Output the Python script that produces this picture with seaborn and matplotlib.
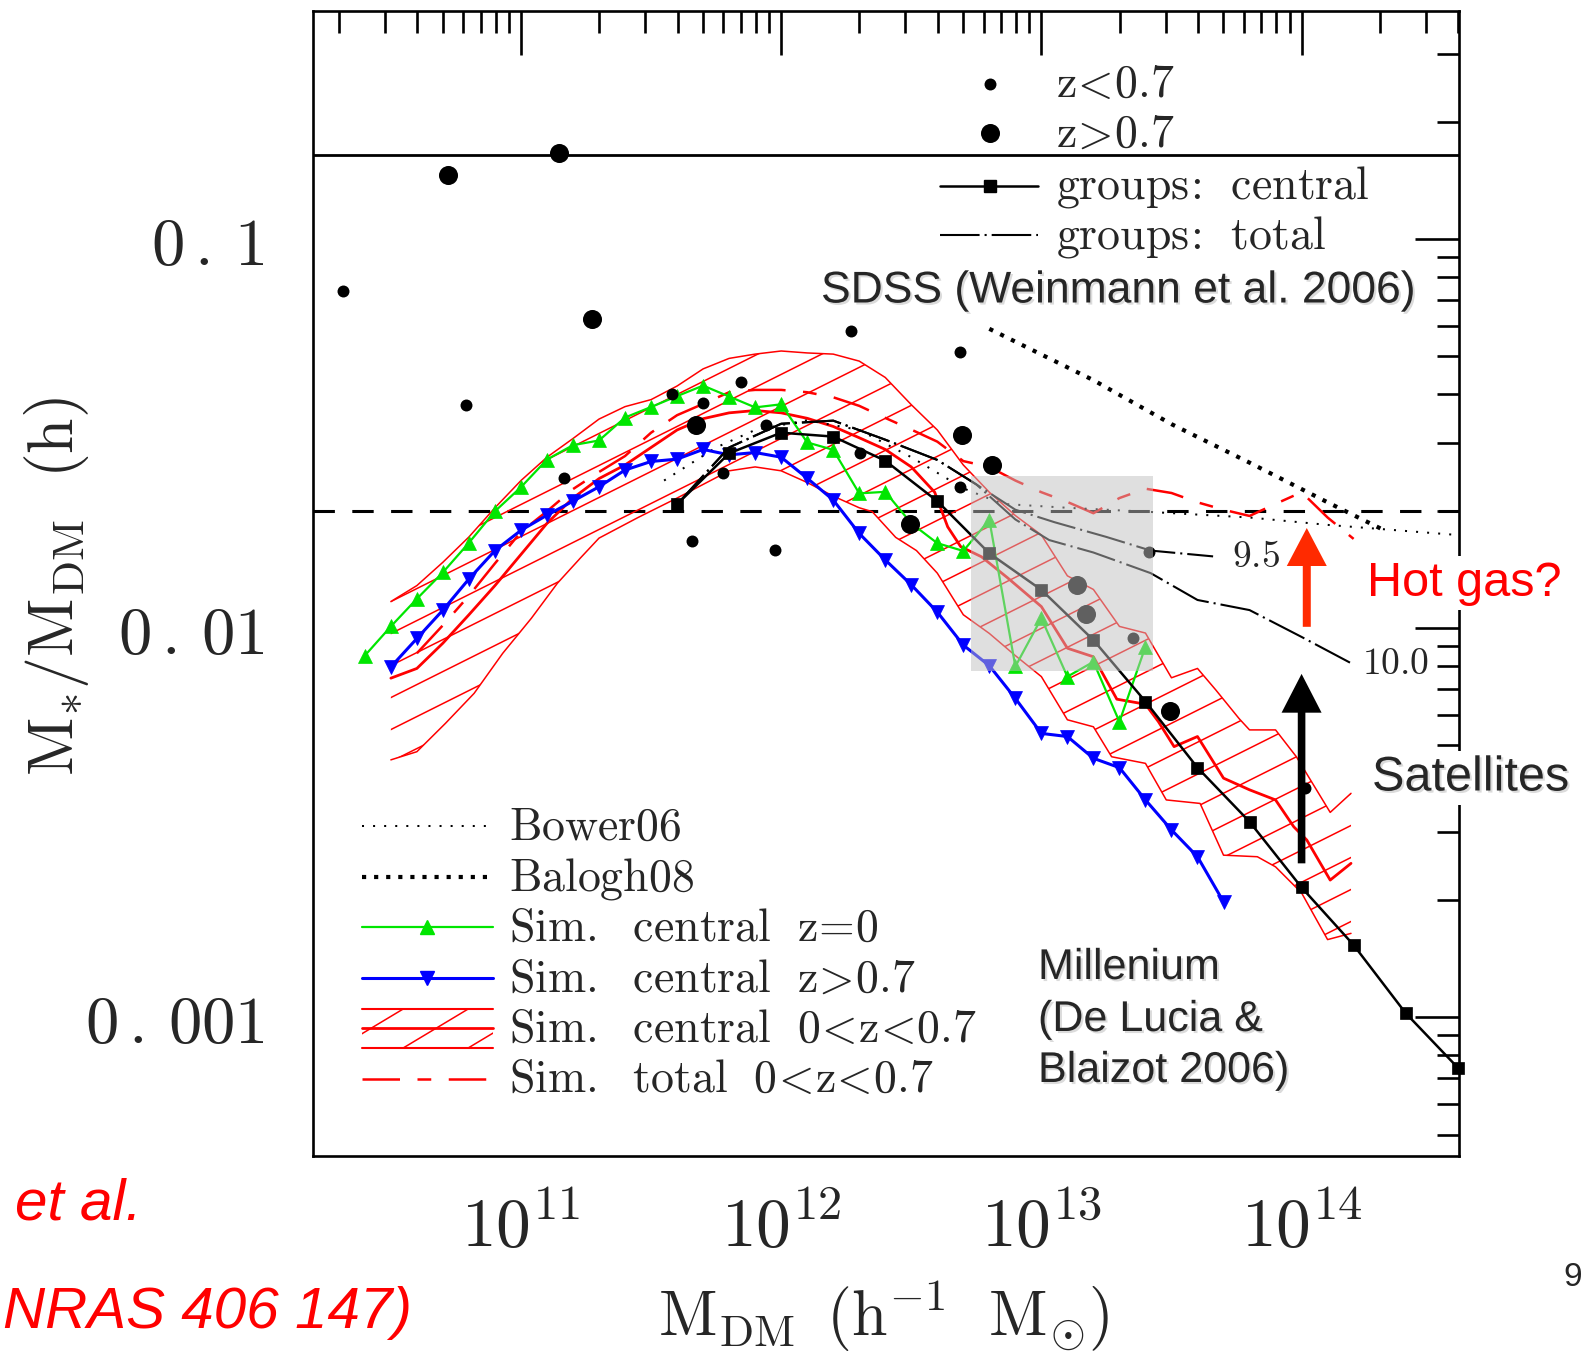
import numpy as np
import matplotlib
matplotlib.use("Agg")
import matplotlib.pyplot as plt
import matplotlib.patheffects as pe
from matplotlib.patches import Polygon, Rectangle
from matplotlib.collections import LineCollection
from matplotlib.ticker import FixedLocator, FixedFormatter, LogLocator, NullFormatter
import seaborn as sns

sns.set_style("white")
plt.rcParams["font.family"] = ["DejaVu Serif", "DejaVu Sans"]
plt.rcParams["mathtext.fontset"] = "cm"
plt.rcParams["axes.unicode_minus"] = False

# ---------------------------------------------------------------------------
# Data: log10 halo mass [h^-1 Msun] and log10 stellar-to-halo mass ratio
# ---------------------------------------------------------------------------
# Simulation, central galaxies at z=0
sim_z0_logm = [10.4, 10.5, 10.6, 10.7, 10.8, 10.9, 11.0, 11.1, 11.2, 11.3, 11.4,
               11.5, 11.6, 11.7, 11.8, 11.9, 12.0, 12.1, 12.2, 12.3, 12.4, 12.5,
               12.6, 12.7, 12.8, 12.9, 13.0, 13.1, 13.2, 13.3, 13.4]
sim_z0_logr = [-2.070, -1.995, -1.924, -1.856, -1.780, -1.699, -1.637, -1.566,
               -1.529, -1.517, -1.458, -1.431, -1.403, -1.376, -1.404, -1.432,
               -1.424, -1.522, -1.541, -1.653, -1.649, -1.730, -1.781, -1.801,
               -1.721, -2.098, -1.974, -2.124, -2.086, -2.240, -2.047]

# Simulation, central galaxies at z>0.7
sim_hiz_logm = [10.5, 10.6, 10.7, 10.8, 10.9, 11.0, 11.1, 11.2, 11.3, 11.4, 11.5,
                11.6, 11.7, 11.8, 11.9, 12.0, 12.1, 12.2, 12.3, 12.4, 12.5, 12.6,
                12.7, 12.8, 12.9, 13.0, 13.1, 13.2, 13.3, 13.4, 13.5, 13.6, 13.7]
sim_hiz_logr = [-2.099, -2.026, -1.953, -1.873, -1.800, -1.748, -1.709, -1.673,
                -1.636, -1.593, -1.571, -1.565, -1.540, -1.554, -1.548, -1.560,
                -1.614, -1.670, -1.756, -1.824, -1.888, -1.958, -2.043, -2.096,
                -2.180, -2.270, -2.278, -2.334, -2.358, -2.441, -2.518, -2.587,
                -2.703]

# Simulation, central galaxies 0<z<0.7: upper edge, median and lower edge
band_hi_logm = [10.50, 10.60, 10.70, 10.80, 10.90, 11.00, 11.10, 11.20, 11.30,
                11.40, 11.50, 11.60, 11.70, 11.80, 11.90, 12.00, 12.10, 12.20,
                12.30, 12.40, 12.50, 12.60, 12.70, 12.80, 12.90, 13.00, 13.10,
                13.20, 13.30, 13.40, 13.50, 13.60, 13.67, 13.76, 13.80, 13.90,
                13.98, 14.11, 14.19]
band_hi_logr = [-1.931, -1.890, -1.830, -1.765, -1.690, -1.620, -1.560, -1.512,
                -1.462, -1.430, -1.412, -1.377, -1.333, -1.306, -1.295, -1.287,
                -1.292, -1.295, -1.313, -1.355, -1.425, -1.490, -1.580, -1.650,
                -1.710, -1.760, -1.865, -1.900, -1.995, -2.012, -2.127, -2.103,
                -2.158, -2.232, -2.261, -2.261, -2.330, -2.473, -2.424]
band_mid_logm = [10.50, 10.60, 10.70, 10.80, 10.90, 11.00, 11.10, 11.20, 11.30,
                 11.40, 11.50, 11.60, 11.70, 11.80, 11.90, 12.00, 12.10, 12.20,
                 12.30, 12.40, 12.50, 12.59, 12.64, 12.69, 12.77, 12.87, 13.00,
                 13.10, 13.20, 13.29, 13.40, 13.45, 13.51, 13.60, 13.70, 13.80,
                 13.90, 13.97, 14.02, 14.11, 14.19]
band_mid_logr = [-2.128, -2.103, -2.038, -1.965, -1.890, -1.810, -1.730, -1.665,
                 -1.615, -1.580, -1.535, -1.490, -1.461, -1.446, -1.440, -1.446,
                 -1.460, -1.481, -1.510, -1.540, -1.585, -1.650, -1.739, -1.790,
                 -1.816, -1.870, -1.944, -2.051, -2.073, -2.182, -2.195, -2.240,
                 -2.304, -2.278, -2.385, -2.415, -2.441, -2.510, -2.544, -2.647,
                 -2.604]
band_lo_logm = [10.50, 10.60, 10.71, 10.82, 10.93, 11.04, 11.14, 11.23, 11.30,
                11.45, 11.60, 11.70, 11.80, 11.90, 12.00, 12.10, 12.20, 12.30,
                12.35, 12.44, 12.52, 12.60, 12.70, 12.80, 12.90, 13.00, 13.10,
                13.20, 13.27, 13.40, 13.48, 13.61, 13.70, 13.83, 13.90, 14.00,
                14.10, 14.19]
band_lo_logr = [-2.338, -2.317, -2.244, -2.167, -2.064, -1.974, -1.884, -1.818,
                -1.768, -1.715, -1.665, -1.630, -1.595, -1.585, -1.595, -1.625,
                -1.660, -1.690, -1.700, -1.766, -1.800, -1.858, -1.965, -2.013,
                -2.070, -2.124, -2.235, -2.253, -2.330, -2.347, -2.441, -2.450,
                -2.583, -2.587, -2.613, -2.680, -2.800, -2.784]

# Simulation, total stellar mass 0<z<0.7
sim_tot_logm = [10.6, 10.7, 10.8, 10.9, 11.0, 11.1, 11.2, 11.3, 11.4, 11.5, 11.6,
                11.7, 11.8, 11.9, 12.0, 12.1, 12.2, 12.3, 12.4, 12.5, 12.6, 12.7,
                12.8, 12.9, 13.0, 13.1, 13.2, 13.3, 13.4, 13.5, 13.6, 13.7, 13.8,
                13.9, 14.0, 14.1, 14.2]
sim_tot_logr = [-2.064, -1.992, -1.916, -1.833, -1.752, -1.699, -1.642, -1.598,
                -1.557, -1.497, -1.452, -1.423, -1.393, -1.387, -1.387, -1.393,
                -1.406, -1.428, -1.459, -1.489, -1.520, -1.570, -1.585, -1.620,
                -1.650, -1.675, -1.704, -1.665, -1.641, -1.652, -1.676, -1.695,
                -1.711, -1.680, -1.650, -1.715, -1.770]

# Groups: central galaxy
grp_cen_logm = [11.6, 11.8, 12.0, 12.2, 12.4, 12.6, 12.8, 13.0, 13.2, 13.4, 13.6,
                13.8, 14.0, 14.2, 14.4, 14.6]
grp_cen_logr = [-1.681, -1.550, -1.497, -1.507, -1.569, -1.673, -1.807, -1.901,
                -2.030, -2.188, -2.358, -2.497, -2.666, -2.814, -2.989, -3.129]

# Groups: total stellar mass, galaxies above log M* = 9.5 and 10.0
grp_tot95_logm = [11.6, 11.8, 12.0, 12.2, 12.4, 12.6, 12.75, 12.9, 13.05, 13.25,
                  13.42, 13.66]
grp_tot95_logr = [-1.681, -1.535, -1.474, -1.466, -1.515, -1.567, -1.630, -1.695,
                  -1.727, -1.765, -1.800, -1.815]
grp_tot10_logm = [11.6, 11.8, 12.0, 12.2, 12.4, 12.6, 12.75, 12.9, 13.03, 13.2,
                  13.42, 13.6, 13.8, 14.0, 14.2]
grp_tot10_logr = [-1.681, -1.535, -1.474, -1.466, -1.515, -1.567, -1.630, -1.720,
                  -1.773, -1.805, -1.858, -1.927, -1.953, -2.022, -2.093]

# Literature relations
bower_logm = [11.55, 11.75, 11.9, 12.1, 12.3, 12.5, 12.7, 12.85, 13.1, 13.4, 13.8,
              14.1, 14.6]
bower_logr = [-1.620, -1.535, -1.490, -1.465, -1.490, -1.560, -1.640, -1.680,
              -1.690, -1.700, -1.715, -1.734, -1.760]
balogh_logm = [12.80, 13.20, 13.50, 13.80, 14.10, 14.33]
balogh_logr = [-1.230, -1.362, -1.475, -1.574, -1.676, -1.752]

# Individual lensing points
dots_lowz_logm = [10.317, 10.79, 11.164, 11.579, 11.698, 11.846, 11.94, 11.656,
                  11.776, 11.975, 12.27, 12.304, 12.686, 12.689, 13.413, 13.353,
                  14.014]
dots_lowz_logr = [-1.133, -1.426, -1.613, -1.398, -1.420, -1.367, -1.477, -1.775,
                  -1.601, -1.798, -1.235, -1.548, -1.289, -1.636, -1.803, -2.025,
                  -2.411]
dots_hiz_logm = [10.721, 11.146, 11.274, 11.673, 12.696, 12.81, 12.494, 13.137,
                 13.17, 13.496]
dots_hiz_logr = [-0.834, -0.779, -1.205, -1.477, -1.503, -1.580, -1.732, -1.888,
                 -1.964, -2.213]

baryon_fraction = 0.165
reference_ratio = 0.02

# Highlighted region (log M, log ratio)
box_logm = [12.73, 13.43]
box_logr = [-2.109, -1.608]

x_tick_exps = [11, 12, 13, 14]
y_tick_vals = [0.001, 0.01, 0.1]
y_tick_text = [r"$\mathrm{0\,.\,001}$", r"$\mathrm{0\,.\,01}$", r"$\mathrm{0\,.\,1}$"]

# ---------------------------------------------------------------------------
RED = "#ff0000"
GREEN = "#00e600"
BLUE = "#0000ff"

W, H = 1584, 1361
fig = plt.figure(figsize=(W / 100, H / 100), dpi=100)
AX_L, AX_R, AX_T, AX_B = 312.8, 1459.0, 10.6, 1155.5
AXW, AXH = AX_R - AX_L, AX_B - AX_T
ax = fig.add_axes([AX_L / W, 1 - AX_B / H, AXW / W, AXH / H])
ax.set_xscale("log")
ax.set_yscale("log")


def pw(v):
    return 10 ** np.asarray(v, dtype=float)


def axp(px, py):
    """figure pixel position -> axes fraction"""
    return (px - AX_L) / AXW, (AX_B - py) / AXH


def figp(px, py):
    return px / W, 1 - py / H


def draw_line(logm, logr, **kw):
    sns.lineplot(x=pw(logm), y=pw(logr), ax=ax, estimator=None, sort=False,
                 legend=False, **kw)


def hatch(clip, slope, step_px, lw, color=RED, zorder=2):
    offs = np.arange(-slope * AXW - step_px, AXH + step_px, step_px)
    segs = [[(0, c / AXH), (1, (c + slope * AXW) / AXH)] for c in offs]
    lc = LineCollection(segs, colors=color, linewidths=lw,
                        transform=ax.transAxes, zorder=zorder)
    ax.add_collection(lc, autolim=False)
    lc.set_clip_path(clip)


# reference horizontal levels
ax.axhline(baryon_fraction, color="black", lw=2.0, zorder=1.5)
ax.axhline(reference_ratio, color="black", lw=2.2, ls=(0, (7, 5.7)), zorder=1.5)

# hatched simulation band
upper = np.column_stack([pw(band_hi_logm), pw(band_hi_logr)])
lower = np.column_stack([pw(band_lo_logm), pw(band_lo_logr)])
band = Polygon(np.vstack([upper, lower[::-1]]), closed=True,
               facecolor="none", edgecolor="none")
ax.add_patch(band)
hatch(band, 0.5, 32, 1.1)
draw_line(band_hi_logm, band_hi_logr, color=RED, lw=1.1, zorder=2)
draw_line(band_lo_logm, band_lo_logr, color=RED, lw=1.1, zorder=2)
draw_line(band_mid_logm, band_mid_logr, color=RED, lw=2.0, zorder=2)
draw_line(sim_tot_logm, sim_tot_logr, color=RED, lw=1.8,
          linestyle=(0, (15, 7, 5.5, 7)), zorder=2.1)

# literature relations
draw_line(bower_logm, bower_logr, color="black", lw=1.45,
          linestyle=(0, (1, 4.5)), zorder=2.2)
draw_line(balogh_logm, balogh_logr, color="black", lw=3.0,
          linestyle=(0, (1, 1.9)), zorder=2.2)

# simulated centrals
draw_line(sim_z0_logm, sim_z0_logr, color=GREEN, lw=1.6, marker="^", ms=10,
          markeredgecolor=GREEN, mew=0.5, zorder=3)
draw_line(sim_hiz_logm, sim_hiz_logr, color=BLUE, lw=2.2, marker="v", ms=10,
          markeredgecolor=BLUE, mew=0.5, zorder=3)

# groups
dashdot = (0, (19, 2.4, 1, 2.4))
draw_line(grp_tot95_logm, grp_tot95_logr, color="black", lw=1.5,
          linestyle=dashdot, zorder=3.5)
draw_line(grp_tot10_logm, grp_tot10_logr, color="black", lw=1.5,
          linestyle=dashdot, zorder=3.5)
draw_line(grp_cen_logm, grp_cen_logr, color="black", lw=1.8, marker="s", ms=9,
          markeredgecolor="black", mew=0.5, zorder=3.6, clip_on=False)

# individual points
sns.scatterplot(x=pw(dots_lowz_logm), y=pw(dots_lowz_logr), ax=ax, s=74,
                color="black", linewidth=0, zorder=4, legend=False)
sns.scatterplot(x=pw(dots_hiz_logm), y=pw(dots_hiz_logr), ax=ax, s=188,
                color="black", linewidth=0, zorder=4, legend=False)

# shaded region
bx0, bx1 = pw(box_logm)
by0, by1 = pw(box_logr)
ax.add_patch(Rectangle((bx0, by0), bx1 - bx0, by1 - by0, facecolor="#c1c1c1",
                       alpha=0.5, edgecolor="none", zorder=5))

# arrows
ax.annotate("", xy=(pw(14.02), pw(-1.742)), xytext=(pw(14.02), pw(-1.996)),
            arrowprops=dict(arrowstyle="simple,head_length=0.95,head_width=1.0,tail_width=0.2",
                            color="#ff2a00", lw=0, mutation_scale=28.8,
                            shrinkA=0, shrinkB=0), zorder=6)
ax.annotate("", xy=(pw(14.0), pw(-2.117)), xytext=(pw(14.0), pw(-2.604)),
            arrowprops=dict(arrowstyle="simple,head_length=0.97,head_width=1.0,tail_width=0.19",
                            color="black", lw=0, mutation_scale=28.8,
                            shrinkA=0, shrinkB=0), zorder=6)

# axes limits and ticks
ax.set_xlim(pw(10.2), pw(14.605))
ax.set_ylim(pw(-3.355), pw(-0.412))
ax.xaxis.set_major_locator(FixedLocator([10.0 ** e for e in x_tick_exps]))
ax.xaxis.set_major_formatter(FixedFormatter([r"$10^{%d}$" % e for e in x_tick_exps]))
ax.xaxis.set_minor_locator(LogLocator(base=10, subs=np.arange(2, 10)))
ax.xaxis.set_minor_formatter(NullFormatter())
ax.yaxis.set_major_locator(FixedLocator(y_tick_vals))
ax.yaxis.set_major_formatter(FixedFormatter(y_tick_text))
ax.yaxis.set_minor_locator(LogLocator(base=10, subs=np.arange(2, 10)))
ax.yaxis.set_minor_formatter(NullFormatter())
ax.tick_params(which="both", direction="in", top=True, right=True, width=1.9,
               color="black")
ax.tick_params(which="major", length=32)
ax.tick_params(which="minor", length=16)
ax.tick_params(axis="x", which="major", labelsize=50, pad=28)
ax.tick_params(axis="y", which="major", labelsize=48, pad=35)
for sp in ax.spines.values():
    sp.set_linewidth(1.9)
    sp.set_color("black")

ax.set_xlabel(r"$\mathrm{M_{DM}}\ \,\mathrm{(h^{-1}\ \ M_{\odot})}$", fontsize=46)
ax.xaxis.set_label_coords(0.498, -0.108)
ax.set_ylabel(r"$\mathrm{M_{*}/M_{DM}}\ \ \mathrm{(h)}$", fontsize=46)
ax.yaxis.set_label_coords(-0.1935, 0.497)

# ---- key, upper right ----
LEG_FS = 33
rows1 = [83.8, 133.3, 185.9, 235.4]
for py, ms in zip(rows1[:2], [8.6, 13.7]):
    ax.plot(*[[v] for v in axp(990, py)], "o", ms=ms, color="black", mew=0,
            transform=ax.transAxes, clip_on=False, zorder=7)
xa, ya = axp(939.5, rows1[2])
xb, _ = axp(1037.5, rows1[2])
ax.plot([xa, xb], [ya, ya], color="black", lw=1.8, transform=ax.transAxes, zorder=7)
ax.plot([axp(990, rows1[2])[0]], [ya], "s", ms=9, color="black",
        transform=ax.transAxes, zorder=7)
_, yb = axp(0, rows1[3])
ax.plot([xa, xb], [yb, yb], color="black", lw=1.5, linestyle=dashdot,
        transform=ax.transAxes, zorder=7)
labels1 = [r"$\mathrm{z}\!<\!\mathrm{0.7}$", r"$\mathrm{z}\!>\!\mathrm{0.7}$",
           r"$\mathrm{groups}\!:\!\ \ \mathrm{central}$",
           r"$\mathrm{groups}\!:\!\ \ \mathrm{total}$"]
for py, t in zip(rows1, labels1):
    fig.text(*figp(1055.7, py + 13), t, fontsize=LEG_FS, ha="left",
             va="baseline")

# ---- key, lower left ----
rows2 = [826.0, 876.7, 927.3, 978.3, 1028.3, 1079.0]
hx0, hx1 = 361.7, 492.6
xa, _ = axp(hx0, 0)
xb, _ = axp(hx1, 0)
y = axp(0, rows2[0])[1]
ax.plot([xa, xb], [y, y], color="black", lw=1.45, linestyle=(0, (1, 4.5)),
        transform=ax.transAxes, zorder=7)
y = axp(0, rows2[1])[1]
ax.plot([xa, xb], [y, y], color="black", lw=3.0, linestyle=(0, (1, 1.9)),
        transform=ax.transAxes, zorder=7)
y = axp(0, rows2[2])[1]
ax.plot([xa, xb], [y, y], color=GREEN, lw=1.6, transform=ax.transAxes, zorder=7)
ax.plot([axp(427, 0)[0]], [y], "^", ms=10, color=GREEN, transform=ax.transAxes,
        zorder=7)
y = axp(0, rows2[3])[1]
ax.plot([xa, xb], [y, y], color=BLUE, lw=2.2, transform=ax.transAxes, zorder=7)
ax.plot([axp(427, 0)[0]], [y], "v", ms=10, color=BLUE, transform=ax.transAxes,
        zorder=7)
ht, hm, hb = 1009.3, 1028.3, 1047.7
for py, lw in [(ht, 1.5), (hm, 2.0), (hb, 1.5)]:
    y = axp(0, py)[1]
    ax.plot([xa, xb], [y, y], color=RED, lw=lw, transform=ax.transAxes, zorder=7)
xr, yr = axp(hx0, hb)
_, yt = axp(0, ht)
key_box = Polygon([(xr, yr), (xb, yr), (xb, yt), (xr, yt)], closed=True,
                  transform=ax.transAxes, facecolor="none", edgecolor="none")
ax.add_patch(key_box)
hatch(key_box, 0.6, 39, 1.1, zorder=7)
y = axp(0, rows2[5])[1]
ax.plot([xa, xb], [y, y], color=RED, lw=1.8, linestyle=(0, (15, 7, 5.5, 7)),
        transform=ax.transAxes, zorder=7)
labels2 = [r"$\mathrm{Bower06}$", r"$\mathrm{Balogh08}$",
           r"$\mathrm{Sim.\ \ central\ \ z}\!=\!\mathrm{0}$",
           r"$\mathrm{Sim.\ \ central\ \ z}\!>\!\mathrm{0.7}$",
           r"$\mathrm{Sim.\ \ central\ \ 0}\!<\!\mathrm{z}\!<\!\mathrm{0.7}$",
           r"$\mathrm{Sim.\ \ total\ \ 0}\!<\!\mathrm{z}\!<\!\mathrm{0.7}$"]
for py, t in zip(rows2, labels2):
    fig.text(*figp(509, py + 13.5), t, fontsize=LEG_FS, ha="left", va="baseline")

# curve labels
fig.text(*figp(1256, 556.6), r"$\mathrm{9.5}$", fontsize=27, ha="center", va="center")
fig.text(*figp(1396, 663.7), r"$\mathrm{10.0}$", fontsize=27, ha="center", va="center")

# annotations
SANS = ["Liberation Sans", "DejaVu Sans"]
shadow = [pe.withSimplePatchShadow(offset=(1.5, -1.5), shadow_rgbFace="#888888",
                                   alpha=0.3)]
fig.text(*figp(821, 291), "SDSS (Weinmann et al. 2006)", family=SANS,
         fontsize=32, ha="left", va="center", path_effects=shadow)
fig.text(*figp(1367, 583), "Hot gas?", family=SANS, fontsize=35, color=RED,
         ha="left", va="center",
         bbox=dict(facecolor="white", edgecolor="none", pad=3))
fig.text(*figp(1372, 778), "Satellites", family=SANS, fontsize=35,
         ha="left", va="center", path_effects=shadow,
         bbox=dict(facecolor="white", edgecolor="none", pad=3))
for py, t in zip([968, 1020, 1071], ["Millenium", "(De Lucia &", "Blaizot 2006)"]):
    fig.text(*figp(1038, py), t, family=SANS, fontsize=31, ha="left",
             va="center", path_effects=shadow)
fig.text(*figp(15, 1205), "et al.", family=SANS, fontsize=42, style="italic",
         color=RED, ha="left", va="center")
fig.text(*figp(412, 1313), "NRAS 406 147)", family=SANS, fontsize=42,
         style="italic", color=RED, ha="right", va="center")
fig.text(*figp(1582, 1278), "9", family=SANS, fontsize=24, ha="right", va="center")

fig.savefig("out.png", dpi=100)
